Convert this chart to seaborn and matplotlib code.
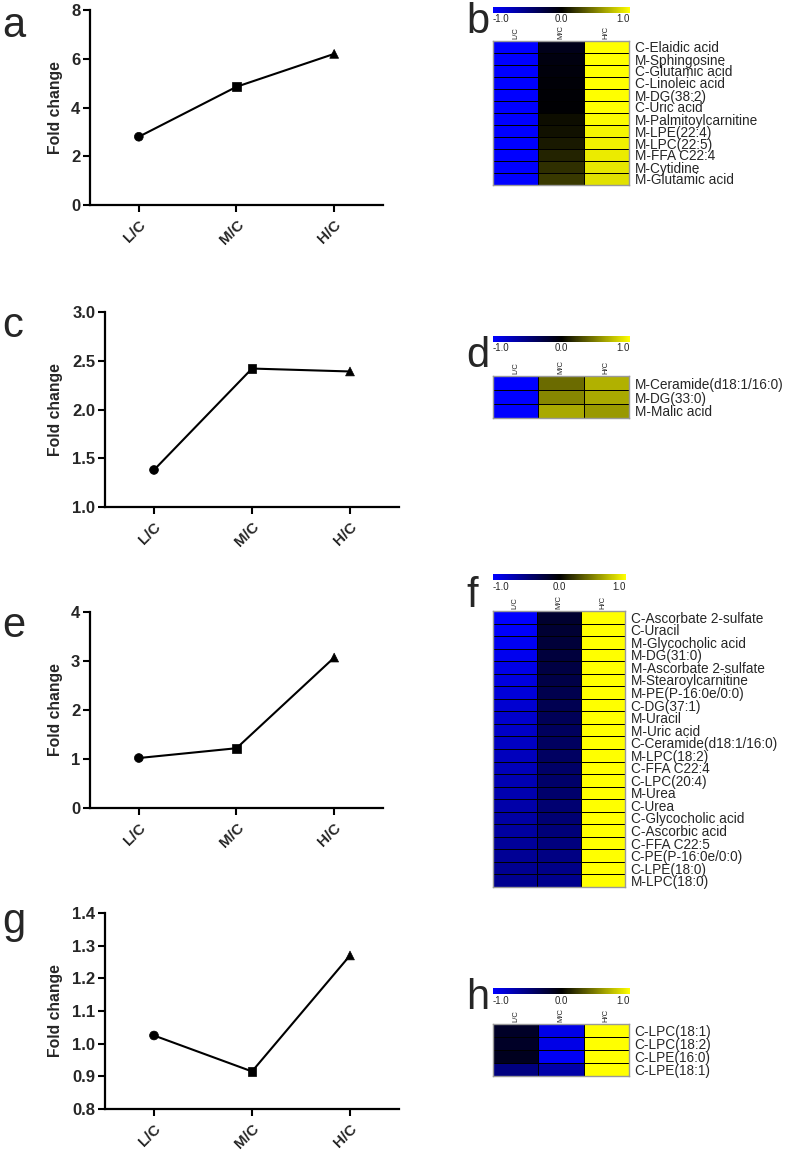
import numpy as np
import pandas as pd
import matplotlib
matplotlib.use('Agg')
import matplotlib.pyplot as plt
import seaborn as sns
from matplotlib.colors import LinearSegmentedColormap, Normalize
from matplotlib.cm import ScalarMappable

sns.set_style('white')
plt.rcParams['font.family'] = ['Liberation Sans', 'DejaVu Sans']

groups = ['L/C', 'M/C', 'H/C']

# fold change panels (a, c, e, g)
fc_a = [2.8, 4.85, 6.2]
fc_c = [1.38, 2.42, 2.39]
fc_e = [1.02, 1.22, 3.07]
fc_g = [1.025, 0.915, 1.27]

# heatmap panels (b, d, f, h)
names_b = ['C-Elaidic acid', 'M-Sphingosine', 'C-Glutamic acid', 'C-Linoleic acid',
           'M-DG(38:2)', 'C-Uric acid', 'M-Palmitoylcarnitine', 'M-LPE(22:4)',
           'M-LPC(22:5)', 'M-FFA C22:4', 'M-Cytidine', 'M-Glutamic acid']
lc_b = [-1.0, -1.0, -1.0, -1.0, -1.0, -1.0, -1.0, -1.0, -1.0, -1.0, -1.0, -1.0]
mc_b = [-0.1, -0.06, -0.04, -0.03, -0.02, -0.01, 0.05, 0.07, 0.1, 0.14, 0.18, 0.22]
hc_b = [1.0, 1.0, 1.0, 1.0, 1.0, 1.0, 0.98, 0.96, 0.94, 0.92, 0.9, 0.88]

names_d = ['M-Ceramide(d18:1/16:0)', 'M-DG(33:0)', 'M-Malic acid']
lc_d = [-1.0, -1.0, -1.0]
mc_d = [0.42, 0.53, 0.66]
hc_d = [0.69, 0.66, 0.6]

names_f = ['C-Ascorbate 2-sulfate', 'C-Uracil', 'M-Glycocholic acid', 'M-DG(31:0)',
           'M-Ascorbate 2-sulfate', 'M-Stearoylcarnitine', 'M-PE(P-16:0e/0:0)', 'C-DG(37:1)',
           'M-Uracil', 'M-Uric acid', 'C-Ceramide(d18:1/16:0)', 'M-LPC(18:2)',
           'C-FFA C22:4', 'C-LPC(20:4)', 'M-Urea', 'C-Urea', 'C-Glycocholic acid',
           'C-Ascorbic acid', 'C-FFA C22:5', 'C-PE(P-16:0e/0:0)', 'C-LPE(18:0)', 'M-LPC(18:0)']
lc_f = [-1.0, -0.98, -0.95, -0.93, -0.9, -0.87, -0.85, -0.82, -0.8, -0.78, -0.76,
        -0.74, -0.72, -0.7, -0.68, -0.66, -0.64, -0.62, -0.6, -0.58, -0.57, -0.56]
mc_f = [-0.18, -0.2, -0.22, -0.24, -0.26, -0.28, -0.3, -0.32, -0.34, -0.36, -0.37,
        -0.38, -0.4, -0.41, -0.42, -0.44, -0.45, -0.47, -0.49, -0.51, -0.53, -0.55]
hc_f = [1.0, 1.0, 1.0, 1.0, 1.0, 1.0, 1.0, 1.0, 1.0, 1.0, 1.0,
        1.0, 1.0, 1.0, 1.0, 1.0, 1.0, 1.0, 1.0, 1.0, 1.0, 1.0]

names_h = ['C-LPC(18:1)', 'C-LPC(18:2)', 'C-LPE(16:0)', 'C-LPE(18:1)']
lc_h = [-0.15, -0.15, -0.12, -0.5]
mc_h = [-0.9, -0.9, -0.96, -0.66]
hc_h = [1.0, 1.0, 1.0, 1.0]

W, H = 787, 1150
fig = plt.figure(figsize=(W / 100, H / 100), dpi=100)
cmap = LinearSegmentedColormap.from_list('byl', ['#0000ff', '#000000', '#ffff00'])


def box(x0, y0, x1, y1):
    return fig.add_axes([x0 / W, 1 - y1 / H, (x1 - x0) / W, (y1 - y0) / H])


def fold_panel(rect, vals, ylim, yticks, fmt):
    ax = box(*rect)
    df = pd.DataFrame({'group': groups, 'fc': vals})
    sns.lineplot(data=df, x='group', y='fc', color='black', lw=1.5, sort=False, ax=ax)
    sns.scatterplot(data=df, x='group', y='fc', style='group',
                    markers={'L/C': 'o', 'M/C': 's', 'H/C': '^'},
                    color='black', s=40, edgecolor='black', legend=False, ax=ax)
    ax.set_xlim(-0.5, 2.5)
    ax.set_ylim(*ylim)
    ax.set_yticks(yticks)
    ax.set_yticklabels([fmt.format(t) for t in yticks], fontsize=12, fontweight='bold')
    ax.set_xticks([0, 1, 2])
    ax.set_xticklabels(groups, rotation=45, ha='right', rotation_mode='anchor',
                       fontsize=11, fontweight='bold')
    ax.set_xlabel('')
    ax.set_ylabel('Fold change', fontsize=11.3, fontweight='bold')
    ax.yaxis.set_label_coords((63 - rect[0]) / (rect[2] - rect[0]), 0.5)
    for s in ['top', 'right']:
        ax.spines[s].set_visible(False)
    for s in ['left', 'bottom']:
        ax.spines[s].set_linewidth(1.6)
        ax.spines[s].set_color('black')
    ax.tick_params(direction='out', length=5, width=1.5, color='black', bottom=True, left=True)
    ax.tick_params(axis='x', pad=4)
    ax.tick_params(axis='y', pad=2)
    return ax


def heat_panel(rect, cb_y, names, lc, mc, hc):
    df = pd.DataFrame({'L/C': lc, 'M/C': mc, 'H/C': hc}, index=names)
    ax = box(*rect)
    sns.heatmap(df, cmap=cmap, vmin=-1, vmax=1, cbar=False, linewidths=0.5,
                linecolor='black', ax=ax)
    ax.xaxis.tick_top()
    ax.set_xticklabels(groups, rotation=90, fontsize=5.5, color='#222222')
    ax.yaxis.tick_right()
    ax.set_yticks(np.arange(len(names)) + 0.5)
    ax.set_yticklabels(names, rotation=0, fontsize=9.8)
    ax.tick_params(length=0)
    ax.tick_params(axis='y', pad=4)
    ax.tick_params(axis='x', pad=1.5)
    for s in ax.spines.values():
        s.set_visible(True)
        s.set_color('#999999')
        s.set_linewidth(1.0)
    cax = box(rect[0], cb_y, rect[2] + 1, cb_y + 6)
    fig.colorbar(ScalarMappable(norm=Normalize(-1, 1), cmap=cmap), cax=cax,
                 orientation='horizontal')
    cax.set_xticks([])
    cax.set_yticks([])
    for s in cax.spines.values():
        s.set_visible(False)
    cax.text(0, -0.25, '-1.0', transform=cax.transAxes, ha='left', va='top', fontsize=7)
    cax.text(0.5, -0.25, '0.0', transform=cax.transAxes, ha='center', va='top', fontsize=7)
    cax.text(1, -0.25, '1.0', transform=cax.transAxes, ha='right', va='top', fontsize=7)
    return ax


fold_panel((90, 10, 383, 205), fc_a, (0, 8), [0, 2, 4, 6, 8], '{:.0f}')
fold_panel((105, 312, 399, 507), fc_c, (1.0, 3.0), [1.0, 1.5, 2.0, 2.5, 3.0], '{:.1f}')
fold_panel((90, 612, 383, 808), fc_e, (0, 4), [0, 1, 2, 3, 4], '{:.0f}')
fold_panel((105, 913, 399, 1109), fc_g, (0.8, 1.4), [0.8, 0.9, 1.0, 1.1, 1.2, 1.3, 1.4], '{:.1f}')

heat_panel((493, 41, 629, 185), 7, names_b, lc_b, mc_b, hc_b)
heat_panel((493, 376, 629, 418), 336, names_d, lc_d, mc_d, hc_d)
heat_panel((493, 611, 625, 887), 574, names_f, lc_f, mc_f, hc_f)
heat_panel((493, 1024, 629, 1076), 988, names_h, lc_h, mc_h, hc_h)

# panel letters
for letter, x, y in [('a', 2, 26), ('b', 466, 22), ('c', 2, 326), ('d', 466, 356),
                     ('e', 2, 626), ('f', 466, 596), ('g', 2, 922), ('h', 466, 998)]:
    fig.text(x / W, 1 - y / H, letter, fontsize=30, ha='left', va='center')

fig.savefig('out.png', dpi=100)
